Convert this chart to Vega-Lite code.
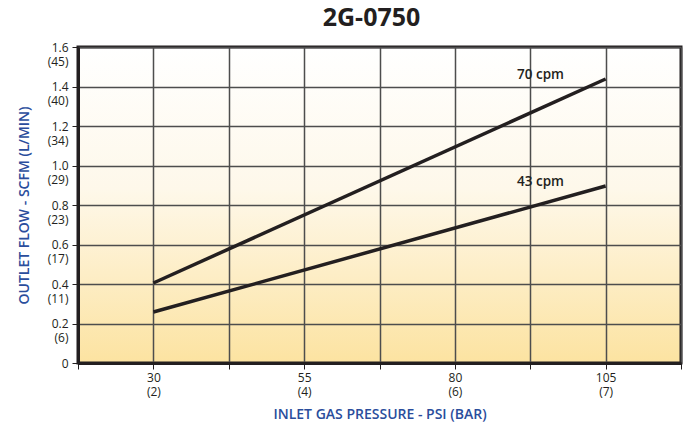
{
  "$schema": "https://vega.github.io/schema/vega-lite/v6.json",
  "width": 603,
  "height": 316,
  "autosize": {"type": "none"},
  "padding": {"left": 78, "top": 47, "right": 13, "bottom": 68},
  "background": "white",
  "title": {"text": "2G-0750", "fontSize": 25, "font": "Open Sans", "fontWeight": "bold", "color": "#231f20", "offset": 10, "dx": -8},
  "config": {
    "view": {"stroke": "#231f20", "strokeWidth": 3, "fill": {"gradient": "linear", "x1": 0, "y1": 0, "x2": 0, "y2": 1, "stops": [{"offset": 0, "color": "#ffffff"}, {"offset": 0.45, "color": "#fef8ea"}, {"offset": 1, "color": "#fce3a1"}]}},
    "axis": {"labelFont": "Open Sans", "titleFont": "Open Sans", "labelColor": "#231f20", "labelFontSize": 12, "labelOverlap": false, "gridColor": "#4d4d4d", "gridWidth": 1.5, "gridOpacity": 1, "tickColor": "#231f20", "domainColor": "#231f20", "domainWidth": 3, "titleColor": "#2a4d9c", "titleFontSize": 14, "titleFontWeight": 600}
  },
  "data": {"values": [
    {"psi": 30, "flow": 0.405, "series": "70 cpm"},
    {"psi": 105, "flow": 1.438, "series": "70 cpm"},
    {"psi": 30, "flow": 0.258, "series": "43 cpm"},
    {"psi": 105, "flow": 0.896, "series": "43 cpm"}
  ]},
  "layer": [
    {
      "mark": {"type": "line", "color": "#231f20", "strokeWidth": 3.5},
      "encoding": {
        "x": {"field": "psi", "type": "quantitative", "scale": {"domain": [17.5, 117.5], "nice": false, "zero": false},
          "axis": {"values": [17.5, 30, 42.5, 55, 67.5, 80, 92.5, 105, 117.5], "tickCount": 20, "tickSize": 6, "labelPadding": 3, "labelLineHeight": 14,
            "labelExpr": "datum.value == 30 ? ['30','(2)'] : datum.value == 55 ? ['55','(4)'] : datum.value == 80 ? ['80','(6)'] : datum.value == 105 ? ['105','(7)'] : ''",
            "title": "INLET GAS PRESSURE - PSI (BAR)", "titlePadding": 10}},
        "y": {"field": "flow", "type": "quantitative", "scale": {"domain": [0, 1.6], "nice": false},
          "axis": {"values": [0, 0.2, 0.4, 0.6, 0.8, 1.0, 1.2, 1.4, 1.6], "tickCount": 20, "tickSize": 6, "labelPadding": 4, "labelLineHeight": 14, "labelBaseline": "middle", "labelOffset": 0,
            "labelExpr": "datum.value == 0 ? ['0',''] : [format(datum.value, '.1f'), ['(6)','(11)','(17)','(23)','(29)','(34)','(40)','(45)'][round(datum.value*5)-1]]",
            "title": "OUTLET  FLOW - SCFM  (L/MIN)", "titlePadding": 16}},
        "detail": {"field": "series"}
      }
    },
    {
      "transform": [{"filter": "datum.psi == 105"}],
      "mark": {"type": "text", "font": "Open Sans", "fontWeight": 600, "fontSize": 13.5, "color": "#231f20", "align": "center", "dy": -4},
      "encoding": {
        "x": {"datum": 94.2, "type": "quantitative"},
        "y": {"field": "flow", "type": "quantitative"},
        "text": {"field": "series"}
      }
    }
  ]
}
